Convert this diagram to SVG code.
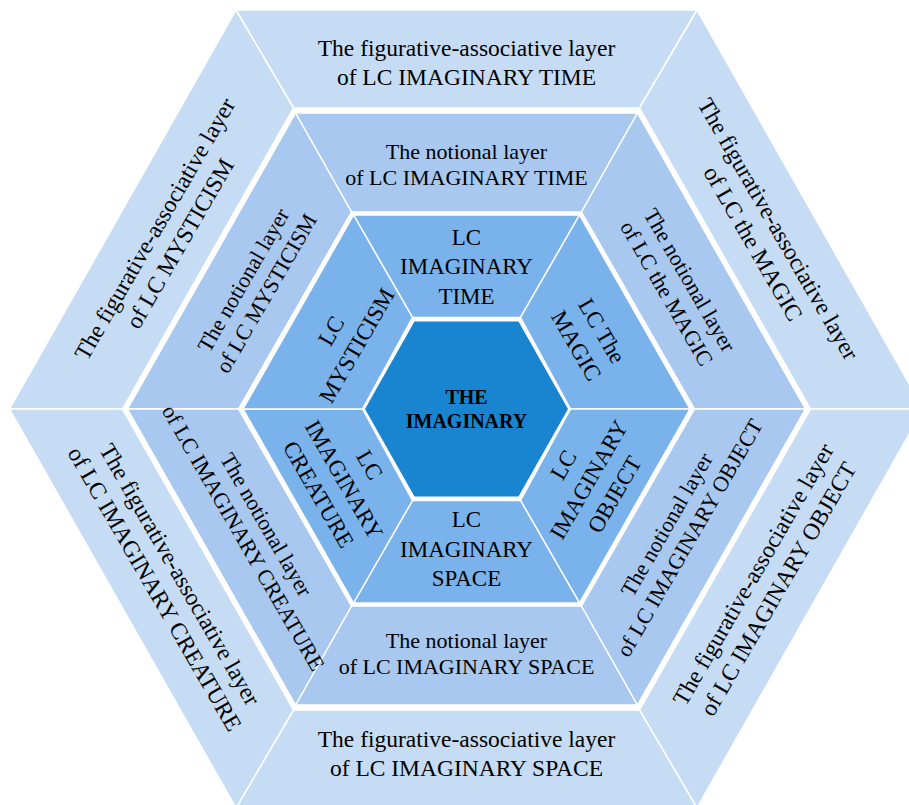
<svg xmlns="http://www.w3.org/2000/svg" width="909" height="805" viewBox="0 0 909 805">
<style>
.r1{fill:#c6dcf5;stroke:#fff;stroke-width:1.5}
.r2{fill:#a8c8ef;stroke:#fff;stroke-width:1.5}
.r3{fill:#7ab3eb;stroke:#fff;stroke-width:1.5}
.c{fill:#1985d0}
text{font-family:"Liberation Serif","Times New Roman",serif;fill:#000;text-anchor:middle}
.t1{font-size:23.5px}
.t2{font-size:22px}
.t3{font-size:23px}
.tc{font-size:20px;font-weight:bold}
</style>
<rect width="909" height="805" fill="#fff"/>
<g id="nodes">
<!-- Ring 1: figurative-associative layers -->
<g id="fig-time">
<polygon class="r1" points="236,10 697,10 639.5,108 293.5,108"/>
<g transform="translate(466.5,63)"><text class="t1" y="-6.7">The figurative-associative layer</text><text class="t1" y="22.3">of LC IMAGINARY TIME</text></g>
</g>
<g id="fig-magic">
<polygon class="r1" points="697,10 923.5,409 810.5,409 639.5,108"/>
<g transform="translate(765.7,236.25) rotate(60)"><text class="t1" y="-6.7">The figurative-associative layer</text><text class="t1" y="22.3">of LC the MAGIC</text></g>
</g>
<g id="fig-object">
<polygon class="r1" points="923.5,409 697,808 639.5,710 810.5,409"/>
<g transform="translate(765.7,581.75) rotate(-60)"><text class="t1" y="-6.7">The figurative-associative layer</text><text class="t1" y="22.3">of LC IMAGINARY OBJECT</text></g>
</g>
<g id="fig-space">
<polygon class="r1" points="697,808 236,808 293.5,710 639.5,710"/>
<g transform="translate(466.5,754)"><text class="t1" y="-6.7">The figurative-associative layer</text><text class="t1" y="22.3">of LC IMAGINARY SPACE</text></g>
</g>
<g id="fig-mysticism">
<polygon class="r1" points="9.5,409 236,10 293.5,108 122.5,409"/>
<g transform="translate(167.3,236.25) rotate(-60)"><text class="t1" y="-6.7">The figurative-associative layer</text><text class="t1" y="22.3">of LC MYSTICISM</text></g>
</g>
<g id="fig-creature">
<polygon class="r1" points="236,808 9.5,409 122.5,409 293.5,710"/>
<g transform="translate(167.3,581.75) rotate(60)"><text class="t1" y="-6.7">The figurative-associative layer</text><text class="t1" y="22.3">of LC IMAGINARY CREATURE</text></g>
</g>
<!-- Ring 2: notional layers -->
<g id="not-time">
<polygon class="r2" points="295.5,113 637.5,113 581.5,212 351.5,212"/>
<g transform="translate(466.5,164.5)"><text class="t2" y="-5.9">The notional layer</text><text class="t2" y="20.6">of LC IMAGINARY TIME</text></g>
</g>
<g id="not-magic">
<polygon class="r2" points="637.5,113 805.5,409 694.5,409 581.5,212"/>
<g transform="translate(678.2,286.75) rotate(60)"><text class="t2" y="-5.9">The notional layer</text><text class="t2" y="20.6">of LC the MAGIC</text></g>
</g>
<g id="not-mysticism">
<polygon class="r2" points="127.5,409 295.5,113 351.5,212 238.5,409"/>
<g transform="translate(254.8,286.75) rotate(-60)"><text class="t2" y="-5.9">The notional layer</text><text class="t2" y="20.6">of LC MYSTICISM</text></g>
</g>
<g id="not-space">
<polygon class="r2" points="637.5,705 295.5,705 351.5,606 581.5,606"/>
<g transform="translate(466.5,653.5)"><text class="t2" y="-5.9">The notional layer</text><text class="t2" y="20.6">of LC IMAGINARY SPACE</text></g>
</g>
<g id="not-object">
<polygon class="r2" points="805.5,409 637.5,705 581.5,606 694.5,409"/>
<g transform="translate(678.2,531.25) rotate(-60)"><text class="t2" y="-5.9">The notional layer</text><text class="t2" y="20.6">of LC IMAGINARY OBJECT</text></g>
</g>
<g id="not-creature">
<polygon class="r2" points="295.5,705 127.5,409 238.5,409 351.5,606"/>
<g transform="translate(254.8,531.25) rotate(60)"><text class="t2" y="-5.9">The notional layer</text><text class="t2" y="20.6">of LC IMAGINARY CREATURE</text></g>
</g>
<!-- Ring 3: LC segments -->
<g id="lc-time">
<polygon class="r3" points="353.5,215 579.5,215 520.5,317.5 412.5,317.5"/>
<g transform="translate(466.5,266.5)"><text class="t3" y="-21.9">LC</text><text class="t3" y="7.6">IMAGINARY</text><text class="t3" y="37.1">TIME</text></g>
</g>
<g id="lc-magic">
<polygon class="r3" points="579.5,215 690,409 570.5,409 520.5,317.5"/>
<g transform="translate(589,338.25) rotate(60)"><text class="t3" y="-7.15">LC The</text><text class="t3" y="22.35">MAGIC</text></g>
</g>
<g id="lc-object">
<polygon class="r3" points="690,409 579.5,603 520.5,500.5 570.5,409"/>
<g transform="translate(589,479.75) rotate(-60)"><text class="t3" y="-21.9">LC</text><text class="t3" y="7.6">IMAGINARY</text><text class="t3" y="37.1">OBJECT</text></g>
</g>
<g id="lc-space">
<polygon class="r3" points="579.5,603 353.5,603 412.5,500.5 520.5,500.5"/>
<g transform="translate(466.5,549)"><text class="t3" y="-21.9">LC</text><text class="t3" y="7.6">IMAGINARY</text><text class="t3" y="37.1">SPACE</text></g>
</g>
<g id="lc-creature">
<polygon class="r3" points="353.5,603 243,409 362.5,409 412.5,500.5"/>
<g transform="translate(344,479.75) rotate(60)"><text class="t3" y="-21.9">LC</text><text class="t3" y="7.6">IMAGINARY</text><text class="t3" y="37.1">CREATURE</text></g>
</g>
<g id="lc-mysticism">
<polygon class="r3" points="243,409 353.5,215 412.5,317.5 362.5,409"/>
<g transform="translate(344,338.25) rotate(-60)"><text class="t3" y="-7.15">LC</text><text class="t3" y="22.35">MYSTICISM</text></g>
</g>
<!-- Center -->
<g id="the-imaginary">
<polygon class="c" points="568,409 518.5,496.5 414.5,496.5 365,409 414.5,321.5 518.5,321.5"/>
<text class="tc" x="466.5" y="404">THE</text>
<text class="tc" x="466.5" y="427.5">IMAGINARY</text>
</g>
</g>
<g id="connectors"/>
</svg>
